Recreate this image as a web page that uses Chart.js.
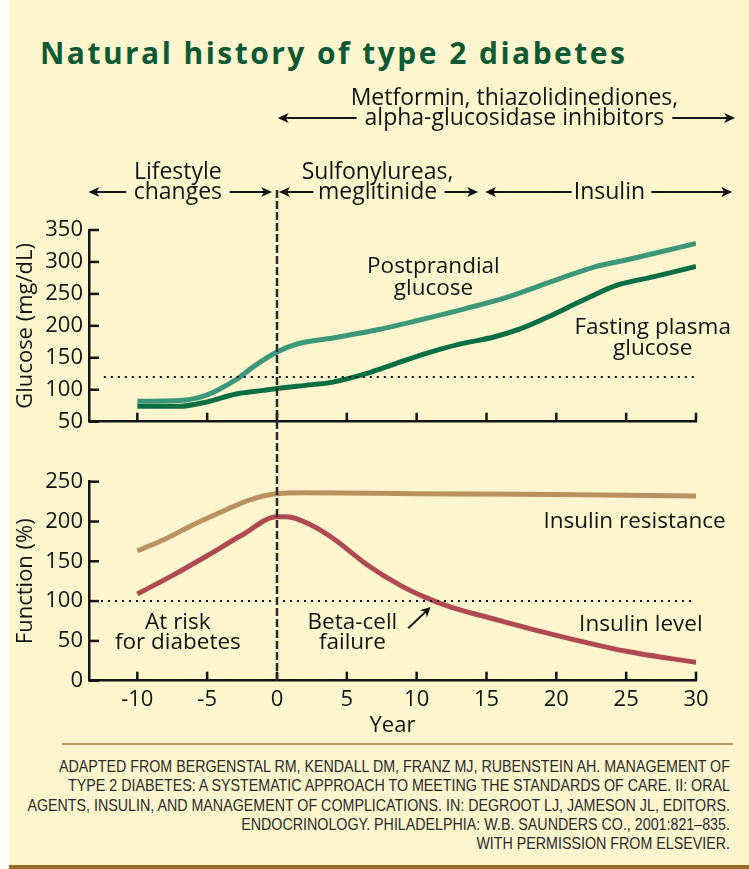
<!DOCTYPE html>
<html><head><meta charset="utf-8">
<script src="https://cdn.jsdelivr.net/npm/chart.js@4.4.1/dist/chart.umd.min.js"></script>
<style>
html,body{margin:0;padding:0;background:#fff;}
#page{position:relative;width:749px;height:869px;overflow:hidden;background:#fff;}
#bg{position:absolute;left:9px;top:0;width:740px;height:865px;background:#FDF5CE;}
#bar{position:absolute;left:9px;top:865px;width:740px;height:4px;background:#9B6B2C;}
#title{position:absolute;left:40px;top:38px;font:700 30px 'Open Sans';line-height:30px;color:#0F5A34;letter-spacing:2.45px;white-space:nowrap;}
#sep{position:absolute;left:62px;top:743px;width:671px;height:1.5px;background:#BB9C68;}
#foot{position:absolute;right:19px;top:757px;text-align:right;font:16.5px 'Liberation Sans';line-height:19.3px;color:#2a2a2a;white-space:nowrap;transform-origin:right top;}
.cv{position:absolute;left:0;}
</style></head>
<body><div id="page">
<div id="bg"></div><div id="bar"></div>
<div id="title">Natural history of type 2 diabetes</div>
<canvas id="topChart" class="cv" width="749" height="380" style="top:70px;width:749px;height:380px"></canvas>
<canvas id="botChart" class="cv" width="749" height="300" style="top:440px;width:749px;height:300px"></canvas>
<div id="sep"></div>
<div id="foot"><span id="foot1">ADAPTED FROM BERGENSTAL RM, KENDALL DM, FRANZ MJ, RUBENSTEIN AH. MANAGEMENT OF</span><br>TYPE 2 DIABETES: A SYSTEMATIC APPROACH TO MEETING THE STANDARDS OF CARE. II: ORAL<br>AGENTS, INSULIN, AND MANAGEMENT OF COMPLICATIONS. IN: DEGROOT LJ, JAMESON JL, EDITORS.<br>ENDOCRINOLOGY. PHILADELPHIA: W.B. SAUNDERS CO., 2001:821–835.<br>WITH PERMISSION FROM ELSEVIER.</div>
</div>
<script>
// ---- data (years relative to diagnosis) ----
const xTickValues = [-10, -5, 0, 5, 10, 15, 20, 25, 30];
const glucoseTicks = [50, 100, 150, 200, 250, 300, 350];
const functionTicks = [0, 50, 100, 150, 200, 250];

const ppYears   = [-10, -7, -5, -3, -1.5, 0, 1.5, 4, 7, 10, 13.5, 16.5, 20, 22.7, 25, 27.5, 30];
const ppGlucose = [82, 83, 92, 115, 139, 159, 172, 181, 193, 208, 227, 245, 272, 292, 303, 316, 329];

const fpYears   = [-10, -7, -5, -3, -1, 0, 2.5, 4, 6.5, 8.5, 10.7, 13, 15.6, 17.5, 19.4, 21.9, 24.4, 27, 30];
const fpGlucose = [74, 74, 81, 93, 99, 102, 108, 112, 126, 141, 157, 171, 183, 196, 214, 240, 264, 277, 293];

const irYears = [-10, -8, -6, -4, -2, 0, 2, 10, 20, 30];
const insulinResistance = [163, 178, 196, 212, 227, 235, 236, 235, 234, 232];

const ilYears = [-10, -7.5, -5, -2.5, 0, 0.7, 2.5, 4, 6.5, 8.8, 10.7, 12.5, 14.8, 20, 25, 30];
const insulinLevel = [109, 132, 157, 183, 206, 206, 195, 179, 145, 120, 104, 92, 81, 57, 37, 23];

const glucoseThreshold = 120;
const functionThreshold = 100;
const diagnosisYear = 0;

// ---- footer condensing (text stays real text) ----
(function () {
  const f = document.getElementById('foot'), l1 = document.getElementById('foot1');
  f.style.transform = 'scaleX(' + (671 / l1.getBoundingClientRect().width) + ')';
})();

// ---- helpers ----
const FONT = "'Open Sans', sans-serif";
const INK = '#141414';
const X_MIN = -13.46, X_MAX = 30;
const zip = (xs, ys) => xs.map((x, i) => ({x, y: ys[i]}));

function arrow(ctx, xTail, y, xHead) {
  const d = Math.sign(xHead - xTail);
  ctx.beginPath(); ctx.moveTo(xTail, y); ctx.lineTo(xHead - d * 6, y); ctx.stroke();
  ctx.beginPath(); ctx.moveTo(xHead, y); ctx.lineTo(xHead - d * 11, y - 5);
  ctx.lineTo(xHead - d * 8, y); ctx.lineTo(xHead - d * 11, y + 5); ctx.closePath(); ctx.fill();
}
function inwardTicks(chart, yTicks) {
  const {ctx, chartArea: a, scales: {x, y}} = chart;
  ctx.save(); ctx.strokeStyle = INK; ctx.lineWidth = 2.5;
  yTicks.forEach(v => { const py = y.getPixelForValue(v); ctx.beginPath(); ctx.moveTo(a.left, py); ctx.lineTo(a.left + 10, py); ctx.stroke(); });
  xTickValues.forEach(v => { const px = x.getPixelForValue(v); ctx.beginPath(); ctx.moveTo(px, a.bottom); ctx.lineTo(px, a.bottom - 9); ctx.stroke(); });
  ctx.restore();
}
function dottedLine(chart, value, startYear) {
  const {ctx, chartArea: a, scales: {x, y}} = chart;
  const py = y.getPixelForValue(value);
  ctx.save(); ctx.strokeStyle = INK; ctx.lineWidth = 2; ctx.setLineDash([2, 5]);
  ctx.beginPath(); ctx.moveTo(x.getPixelForValue(startYear), py); ctx.lineTo(a.right, py); ctx.stroke(); ctx.restore();
}
function vDashed(chart, y0, y1, offset) {
  const {ctx, scales: {x}} = chart;
  const px = x.getPixelForValue(diagnosisYear);
  ctx.save(); ctx.strokeStyle = '#2a2a2a'; ctx.lineWidth = 2.5; ctx.setLineDash([8, 3]); ctx.lineDashOffset = offset;
  ctx.beginPath(); ctx.moveTo(px, y0); ctx.lineTo(px, y1); ctx.stroke(); ctx.restore();
}
function label(chart, lines, xv, yv, dy) {
  const {ctx, scales: {x, y}} = chart;
  ctx.save(); ctx.fillStyle = INK; ctx.font = '22.5px ' + FONT; ctx.textAlign = 'center'; ctx.textBaseline = 'middle';
  lines.forEach((t, i) => ctx.fillText(t, x.getPixelForValue(xv), y.getPixelForValue(yv) + i * dy));
  ctx.restore();
}

const headers = [
  {lines: ['Metformin, thiazolidinediones,', 'alpha-glucosidase inhibitors'], cx: 17.0, y: [28, 48], arrows: [[5.7, 0.05], [28.3, 32.8]]},
  {lines: ['Lifestyle', 'changes'], cx: -7.1, y: [102, 122], arrows: [[-10.8, -13.5], [-3.4, -0.35]]},
  {lines: ['Sulfonylureas,', 'meglitinide'], cx: 7.2, y: [102, 122], arrows: [[2.6, 0.14], [12.0, 14.4]]},
  {lines: ['Insulin'], cx: 23.8, y: [122], arrows: [[21.1, 14.9], [26.8, 32.6]]}
];

const topOverlay = {
  id: 'topOverlay',
  afterDatasetsDraw(chart) {
    const {ctx, scales: {x}} = chart;
    inwardTicks(chart, glucoseTicks);
    dottedLine(chart, glucoseThreshold, -12.4);
    vDashed(chart, 120, 380, 0);
    ctx.save(); ctx.fillStyle = INK; ctx.strokeStyle = INK; ctx.lineWidth = 2;
    ctx.font = '23px ' + FONT; ctx.textAlign = 'center'; ctx.textBaseline = 'middle';
    headers.forEach(h => {
      h.lines.forEach((t, i) => ctx.fillText(t, x.getPixelForValue(h.cx), h.y[i]));
      const ay = h.y[h.y.length - 1];
      h.arrows.forEach(([t, hd]) => arrow(ctx, x.getPixelForValue(t), ay, x.getPixelForValue(hd)));
    });
    ctx.restore();
    label(chart, ['Postprandial', 'glucose'], 11.2, 292, 22);
    label(chart, ['Fasting plasma', 'glucose'], 26.9, 197, 21);
  }
};

const botOverlay = {
  id: 'botOverlay',
  afterDatasetsDraw(chart) {
    const {ctx, chartArea: a, scales: {x, y}} = chart;
    inwardTicks(chart, functionTicks);
    dottedLine(chart, functionThreshold, -12.6);
    vDashed(chart, 10, a.bottom, 7);
    label(chart, ['Insulin resistance'], 25.6, 200, 0);
    label(chart, ['Insulin level'], 26.05, 70, 0);
    label(chart, ['At risk', 'for diabetes'], -7.1, 72.5, 20);
    label(chart, ['Beta-cell', 'failure'], 5.4, 72.5, 20);
    ctx.save(); ctx.fillStyle = INK; ctx.strokeStyle = INK; ctx.lineWidth = 2;
    const x1 = x.getPixelForValue(9.4), y1 = y.getPixelForValue(66);
    const x2 = x.getPixelForValue(11.0), y2 = y.getPixelForValue(92.6);
    const ang = Math.atan2(y2 - y1, x2 - x1);
    ctx.beginPath(); ctx.moveTo(x1, y1); ctx.lineTo(x2 - 6 * Math.cos(ang), y2 - 6 * Math.sin(ang)); ctx.stroke();
    ctx.translate(x2, y2); ctx.rotate(ang);
    ctx.beginPath(); ctx.moveTo(0, 0); ctx.lineTo(-10, -5); ctx.lineTo(-7, 0); ctx.lineTo(-10, 5); ctx.closePath(); ctx.fill();
    ctx.restore();
  }
};

function keepTicks(values) {
  return scale => { scale.ticks = values.map(v => ({value: v})); };
}
const lineDs = (label, xs, ys, color) => ({
  label, data: zip(xs, ys), borderColor: color, borderWidth: 5, pointRadius: 0,
  cubicInterpolationMode: 'monotone', fill: false, borderCapStyle: 'butt'
});
const common = {
  responsive: false, animation: false, devicePixelRatio: 1,
  plugins: {legend: {display: false}, tooltip: {enabled: false}},
  events: []
};

new Chart(document.getElementById('topChart'), {
  type: 'line',
  data: {datasets: [
    lineDs('Postprandial glucose', ppYears, ppGlucose, '#3C9878'),
    lineDs('Fasting plasma glucose', fpYears, fpGlucose, '#0B6F43')
  ]},
  options: Object.assign({}, common, {
    layout: {padding: {top: 160, right: 53, left: 0, bottom: 0}},
    scales: {
      x: {type: 'linear', min: X_MIN, max: X_MAX, afterBuildTicks: keepTicks(xTickValues),
          ticks: {display: false}, grid: {display: false, drawTicks: false},
          border: {display: true, color: INK, width: 2.5},
          afterFit(s) { s.height = 28.3; }},
      y: {type: 'linear', min: 50, max: 350, afterBuildTicks: keepTicks(glucoseTicks),
          ticks: {color: INK, padding: 6, font: {family: FONT, size: 22}},
          grid: {display: false, drawTicks: false},
          border: {display: true, color: INK, width: 2.5},
          title: {display: true, text: 'Glucose (mg/dL)', color: INK, font: {family: FONT, size: 22}, padding: {top: 13}},
          afterFit(s) { s.width = 89; }}
    }
  }),
  plugins: [topOverlay]
});

new Chart(document.getElementById('botChart'), {
  type: 'line',
  data: {datasets: [
    lineDs('Insulin resistance', irYears, insulinResistance, '#B99262'),
    lineDs('Insulin level', ilYears, insulinLevel, '#AF4A53')
  ]},
  options: Object.assign({}, common, {
    layout: {padding: {top: 41.7, right: 53, left: 0, bottom: 0}},
    scales: {
      x: {type: 'linear', min: X_MIN, max: X_MAX, afterBuildTicks: keepTicks(xTickValues),
          ticks: {color: INK, padding: 6, font: {family: FONT, size: 22}},
          grid: {display: false, drawTicks: false},
          border: {display: true, color: INK, width: 2.5},
          title: {display: true, text: 'Year', color: INK, font: {family: FONT, size: 22}, padding: {top: 0, bottom: 1}},
          afterFit(s) { s.height = 59.3; }},
      y: {type: 'linear', min: 0, max: 250, afterBuildTicks: keepTicks(functionTicks),
          ticks: {color: INK, padding: 6, font: {family: FONT, size: 22}},
          grid: {display: false, drawTicks: false},
          border: {display: true, color: INK, width: 2.5},
          title: {display: true, text: 'Function (%)', color: INK, font: {family: FONT, size: 22}, padding: {top: 13}},
          afterFit(s) { s.width = 89; }}
    }
  }),
  plugins: [botOverlay]
});
</script>
</body></html>
